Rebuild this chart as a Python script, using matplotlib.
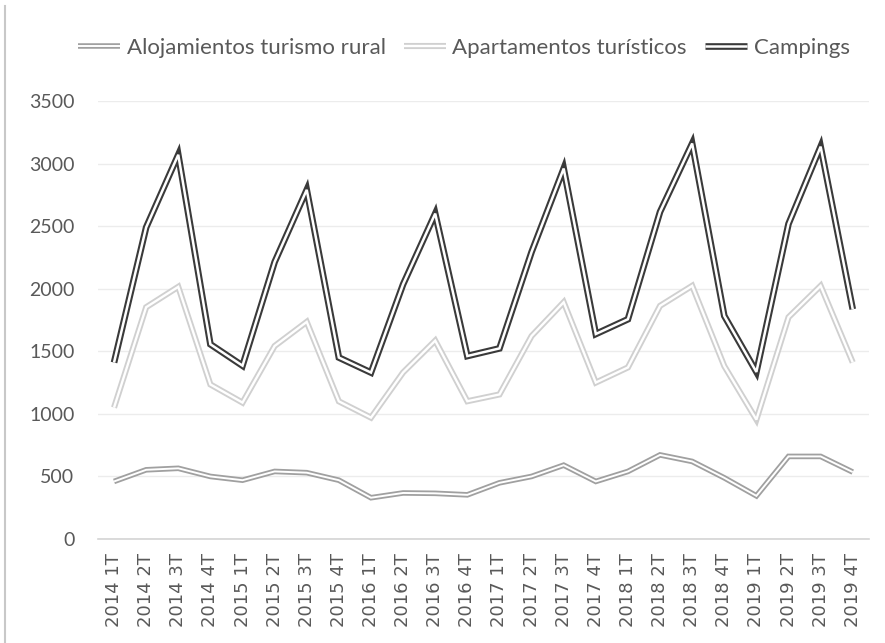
import matplotlib
matplotlib.use("Agg")
import matplotlib.pyplot as plt
import matplotlib.patheffects as pe
from matplotlib.lines import Line2D

quarters = [
    "2014 1T", "2014 2T", "2014 3T", "2014 4T",
    "2015 1T", "2015 2T", "2015 3T", "2015 4T",
    "2016 1T", "2016 2T", "2016 3T", "2016 4T",
    "2017 1T", "2017 2T", "2017 3T", "2017 4T",
    "2018 1T", "2018 2T", "2018 3T", "2018 4T",
    "2019 1T", "2019 2T", "2019 3T", "2019 4T",
]

rural = [460, 553, 565, 500, 470, 540, 530, 470,
         330, 368, 365, 353, 449, 500, 590, 460,
         540, 672, 620, 489, 345, 660, 660, 535]

apartamentos = [1050, 1852, 2015, 1235, 1090, 1542, 1735, 1100,
                970, 1331, 1585, 1101, 1155, 1622, 1892, 1250,
                1371, 1863, 2023, 1382, 954, 1772, 2023, 1411]

campings = [1410, 2490, 3070, 1556, 1385, 2213, 2790, 1450,
            1330, 2035, 2600, 1462, 1523, 2293, 2960, 1638,
            1756, 2614, 3160, 1783, 1335, 2518, 3135, 1836]

series_names = ["Alojamientos turismo rural", "Apartamentos turísticos", "Campings"]
series_values = [rural, apartamentos, campings]
series_colors = ["#a0a0a0", "#d0d0d0", "#3a3a3a"]

text_color = "#595959"
plt.rcParams["font.family"] = ["Lato", "DejaVu Sans"]


def double_line(ax, y, color, outer, inner, label):
    # Excel-style compound "double" line: thick stroke with a white core
    line, = ax.plot(range(len(y)), y, color=color, lw=outer, label=label,
                    solid_joinstyle="miter", solid_capstyle="butt")
    line.set_path_effects([
        pe.Stroke(linewidth=outer, foreground=color, joinstyle="miter", capstyle="butt"),
        pe.Stroke(linewidth=inner, foreground="white", joinstyle="miter", capstyle="butt"),
    ])
    return line


def main():
    fig = plt.figure(figsize=(8.85, 6.43), dpi=100)
    ax = fig.add_axes([0.1107, 0.1617, 0.871, 0.6813])

    widths = [(4.0, 1.4), (4.4, 1.7), (4.8, 1.8)]
    for name, vals, col, (wo, wi) in zip(series_names, series_values, series_colors, widths):
        double_line(ax, vals, col, wo, wi, name)

    ax.set_xlim(-0.5, len(quarters) - 0.5)
    ax.set_ylim(0, 3500)
    ax.set_yticks(range(0, 3501, 500))
    ax.set_xticks(range(len(quarters)))
    ax.set_xticklabels(quarters, rotation=90, fontsize=13,
                       family=["DejaVu Sans"], color=text_color)
    ax.tick_params(axis="y", length=0, pad=17, labelsize=14, labelcolor=text_color)
    ax.tick_params(axis="x", length=0, pad=10)

    ax.grid(axis="y", color="#ececec", lw=1)
    ax.set_axisbelow(True)
    for side in ["top", "right", "left"]:
        ax.spines[side].set_visible(False)
    ax.spines["bottom"].set_color("#d4d4d4")
    ax.spines["bottom"].set_linewidth(1.2)

    fig.legend(loc="center", bbox_to_anchor=(0.524, 0.926), ncol=3, frameon=False,
               fontsize=16, labelcolor=text_color, handlelength=1.9,
               handletextpad=0.3, columnspacing=0.8)

    # left edge of the chart frame
    fig.add_artist(Line2D([0.006, 0.006], [0.0, 0.99], transform=fig.transFigure,
                          color="#c8c8c8", lw=1.5))

    fig.savefig("out.png", dpi=100, facecolor="white")


if __name__ == "__main__":
    main()
